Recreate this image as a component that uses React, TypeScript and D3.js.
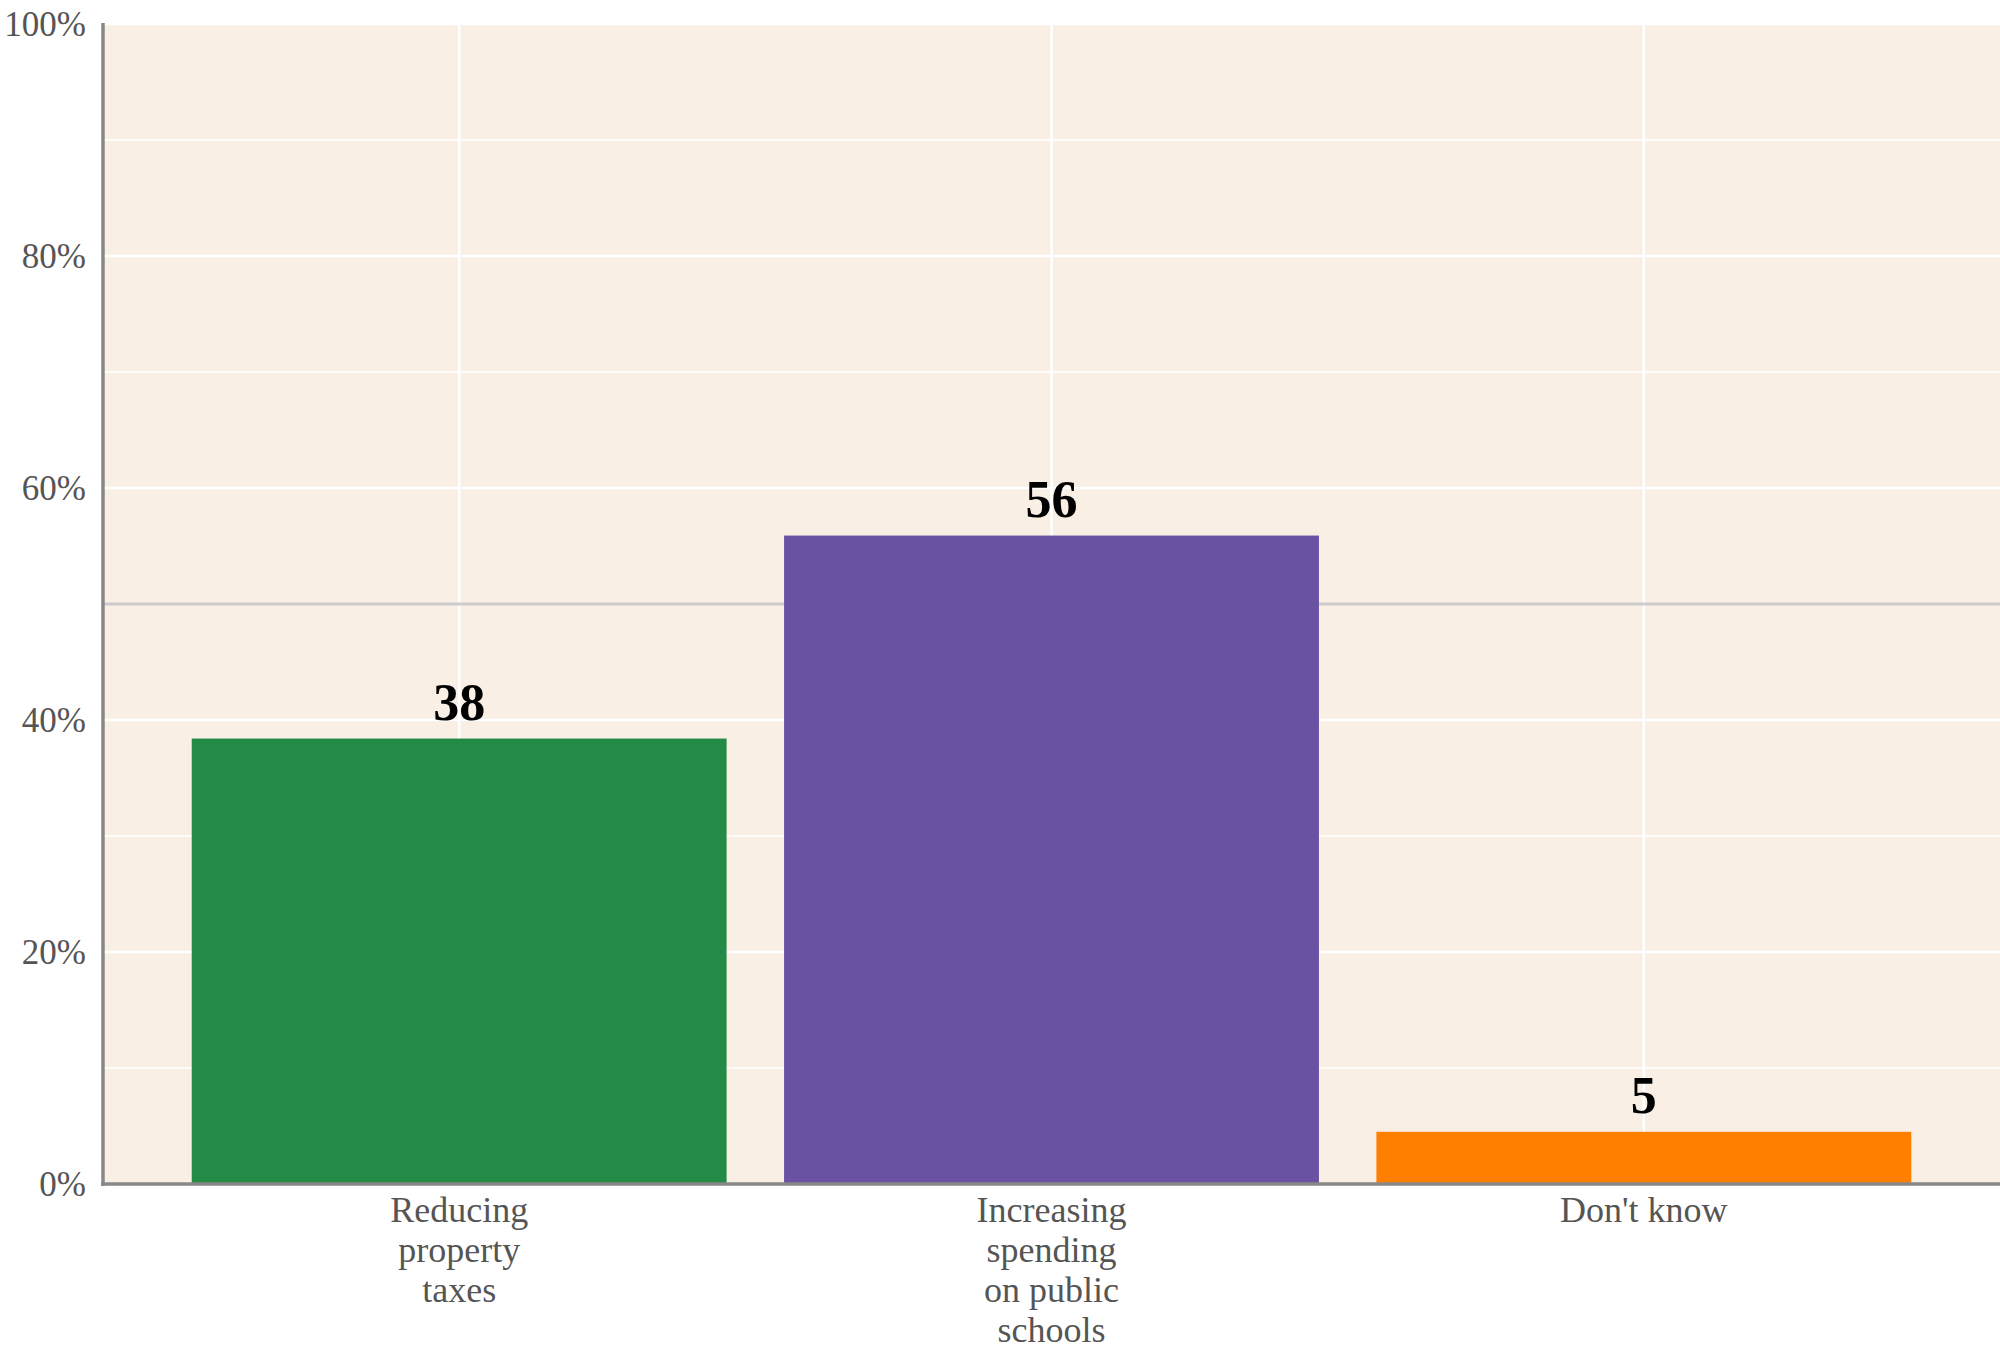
import React from "react";
import * as d3 from "d3";

const categories: string[][] = [
  ["Reducing", "property", "taxes"],
  ["Increasing", "spending", "on public", "schools"],
  ["Don't know"],
];
const values: number[] = [38.4, 55.9, 4.5];
const valueLabels: string[] = ["38", "56", "5"];
const barColors: string[] = ["#248B47", "#6A52A3", "#FF7F00"];
const majorTicks: number[] = [0, 20, 40, 60, 80, 100];
const minorTicks: number[] = [10, 30, 70, 90];
const refLine: number = 50;

const W = 2000;
const H = 1346;
const FONT = "'Liberation Serif', 'Times New Roman', Times, serif";

export default function App() {
  const left = 103;
  const top = 24;
  const bottom = 1184;
  const right = W;

  const y = d3.scaleLinear().domain([0, 100]).range([bottom, top]);
  const x = d3
    .scaleBand<number>()
    .domain(d3.range(categories.length))
    .range([163, 1940])
    .paddingInner(0.097)
    .paddingOuter(0.0485);
  const cx = (i: number) => (x(i) as number) + x.bandwidth() / 2;

  return (
    <svg
      width={W}
      height={H}
      style={{ position: "absolute", left: 0, top: 0, display: "block", background: "#fff" }}
    >
      <rect x={left} y={top} width={right - left} height={bottom - top} fill="#F9EFE5" />
      {minorTicks.map((t) => (
        <line key={"mi" + t} x1={left} x2={right} y1={y(t)} y2={y(t)} stroke="#fff" strokeWidth={1.6} />
      ))}
      {majorTicks.map((t) => (
        <line key={"ma" + t} x1={left} x2={right} y1={y(t)} y2={y(t)} stroke="#fff" strokeWidth={2.6} />
      ))}
      {categories.map((_, i) => (
        <line key={"v" + i} x1={cx(i)} x2={cx(i)} y1={top} y2={bottom} stroke="#fff" strokeWidth={2.6} />
      ))}
      <line x1={left} x2={right} y1={y(refLine)} y2={y(refLine)} stroke="#CCCCCC" strokeWidth={2.8} />
      {values.map((v, i) => (
        <rect
          key={"b" + i}
          x={x(i) as number}
          y={y(v)}
          width={x.bandwidth()}
          height={y(0) - y(v)}
          fill={barColors[i]}
        />
      ))}
      {values.map((v, i) => (
        <text
          key={"l" + i}
          x={cx(i)}
          y={y(v) - 19}
          textAnchor="middle"
          fontFamily={FONT}
          fontWeight="bold"
          fontSize={52}
          fill="#000"
        >
          {valueLabels[i]}
        </text>
      ))}
      <line x1={left} x2={left} y1={top - 1} y2={bottom + 2} stroke="#888" strokeWidth={3.5} />
      <line x1={left - 2} x2={right} y1={bottom} y2={bottom} stroke="#888" strokeWidth={3.5} />
      {majorTicks.map((t) => (
        <text
          key={"yt" + t}
          x={86}
          y={y(t)}
          dy="0.35em"
          textAnchor="end"
          fontFamily={FONT}
          fontSize={35}
          fill="#555"
        >
          {t + "%"}
        </text>
      ))}
      {categories.map((lines, i) => (
        <text
          key={"xt" + i}
          x={cx(i)}
          y={1222}
          textAnchor="middle"
          fontFamily={FONT}
          fontSize={36}
          fill="#555"
        >
          {lines.map((ln, j) => (
            <tspan key={j} x={cx(i)} dy={j === 0 ? 0 : 40}>
              {ln}
            </tspan>
          ))}
        </text>
      ))}
    </svg>
  );
}
